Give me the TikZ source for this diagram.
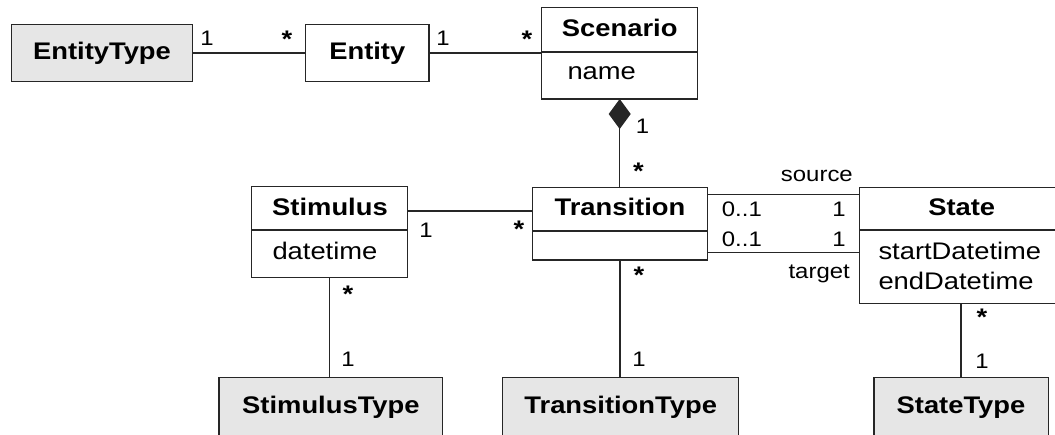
\documentclass[tikz,border=0pt]{standalone}
\usepackage{fontspec}
\setmainfont{Liberation Sans}[FakeStretch=1.14]
\usetikzlibrary{arrows.meta}
\definecolor{typegray}{HTML}{E6E6E6}
\definecolor{ink}{HTML}{262626}

\begin{document}
\begin{tikzpicture}[x=1pt,y=-1pt,
  box/.style={draw=ink, line width=1.3pt, inner sep=0pt, outer sep=0pt},
  typebox/.style={box, fill=typegray},
  title/.style={font=\fontsize{24}{28}\selectfont\bfseries, anchor=base, inner sep=0pt},
  attr/.style={font=\fontsize{24}{28}\selectfont, anchor=base west, inner sep=0pt},
  mult/.style={font=\fontsize{21}{25}\selectfont, inner sep=0pt},
  many/.style={font=\fontsize{24}{28}\selectfont\bfseries, inner sep=0pt},
  role/.style={font=\fontsize{21}{25}\selectfont, anchor=base east, inner sep=0pt},
  link/.style={draw=ink, line width=1.2pt},
  divider/.style={draw=ink, line width=1.2pt},
]
\useasboundingbox (0,0) rectangle (1055,434);
\fill[white] (0,0) rectangle (1055,434);
\clip (0,0) rectangle (1055,434);

% class boxes
\node[typebox, minimum width=180.6pt, minimum height=57.4pt] (etype) at (102,53) {};
\node[box, minimum width=123.3pt, minimum height=57.4pt] (ent) at (367.3,53) {};
\node[box, minimum width=156pt, minimum height=91.7pt] (scen) at (619.7,53.15) {};
\node[box, minimum width=156pt, minimum height=91pt] (stim) at (329.7,232.2) {};
\node[box, minimum width=175.2pt, minimum height=72.7pt] (trans) at (619.9,223.65) {};
\node[box, minimum width=204.5pt, minimum height=116pt] (state) at (961.75,245.3) {};
\node[typebox, minimum width=223.7pt, minimum height=82.7pt] (stimT) at (330.85,418.65) {};
\node[typebox, minimum width=236pt, minimum height=82.7pt] (transT) at (620.7,418.65) {};
\node[typebox, minimum width=174.3pt, minimum height=82.7pt] (stateT) at (961.15,418.65) {};

% compartment dividers
\draw[divider] ([yshift=-44.7pt]scen.north west) -- ([yshift=-44.7pt]scen.north east);
\draw[divider] ([yshift=-43.3pt]stim.north west) -- ([yshift=-43.3pt]stim.north east);
\draw[divider] ([yshift=-43.7pt]trans.north west) -- ([yshift=-43.7pt]trans.north east);
\draw[divider] ([yshift=-42.7pt]state.north west) -- ([yshift=-42.7pt]state.north east);

% class names and attributes
\node[title] (tEtype) at (102,59.3) {EntityType};
\node[title] (tEnt) at (367.3,59.3) {Entity};
\node[title] (tScen) at (619.7,36) {Scenario};
\node[attr] (aName) at (567.3,79) {name};
\node[title] (tStim) at (330,215.7) {Stimulus};
\node[attr] (aDate) at (272.3,259.3) {datetime};
\node[title] (tTrans) at (620,215.7) {Transition};
\node[title] (tState) at (961.7,215.7) {State};
\node[attr] (aStart) at (878.3,259.3) {startDatetime};
\node[attr] (aEnd) at (878.3,289) {endDatetime};
\node[title] (tStimT) at (330.9,413) {StimulusType};
\node[title] (tTransT) at (620.7,413) {TransitionType};
\node[title] (tStateT) at (961,413) {StateType};

% associations
\draw[link] (etype.east) -- (ent.west);
\draw[link] (ent.east) -- (ent.east -| scen.west);
\draw[link, {Diamond[width=22pt,length=30pt]}-] (scen.south) -- (scen.south |- trans.north);
\draw[link] ([yshift=-24.3pt]stim.north east) coordinate (stimR) -- (stimR -| trans.west);
\draw[link] ([yshift=-6.8pt]trans.north east) coordinate (srcL) -- (srcL -| state.west);
\draw[link] ([yshift=7.7pt]trans.south east) coordinate (tgtL) -- (tgtL -| state.west);
\draw[link] (stim.south) -- (stim.south |- stimT.north);
\draw[link] (trans.south) -- (trans.south |- transT.north);
\draw[link] ([xshift=-0.7pt]state.south) coordinate (stB) -- (stB |- stateT.north);

% multiplicities
\node[mult] (m1) at (207,38) {1};
\node[many] (m2) at (287,39) {*};
\node[mult] (m3) at (443,38) {1};
\node[many] (m4) at (527,39) {*};
\node[mult] (m5) at (642.5,126) {1};
\node[many] (m6) at (638.5,171) {*};
\node[mult] (m7) at (426,230) {1};
\node[many] (m8) at (519,229) {*};
\node[many] (m9) at (348,294) {*};
\node[mult] (m10) at (348,359) {1};
\node[many] (m11) at (639,275) {*};
\node[mult] (m12) at (639,359) {1};
\node[many] (m13) at (982,317) {*};
\node[mult] (m14) at (982,361) {1};
\node[mult, anchor=west] (m15) at (721.7,209) {0..1};
\node[mult, anchor=east] (m16) at (846,209) {1};
\node[mult, anchor=west] (m17) at (721.7,239) {0..1};
\node[mult, anchor=east] (m18) at (846,239) {1};

% role names
\node[role] (rSource) at (853,181.7) {source};
\node[role] (rTarget) at (850,278.3) {target};
\end{tikzpicture}
\end{document}
